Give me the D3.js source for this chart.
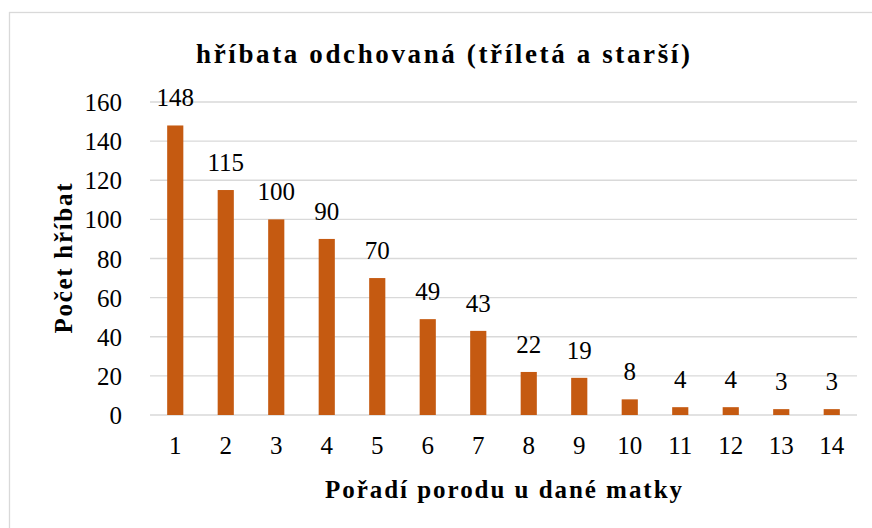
<!DOCTYPE html>
<html>
<head>
<meta charset="utf-8">
<script src="https://cdn.jsdelivr.net/npm/d3@7"></script>
<style>
  body { margin: 0; background: #fff; }
</style>
</head>
<body>
<div id="chart"></div>
<script>
// data
var categories = ["1","2","3","4","5","6","7","8","9","10","11","12","13","14"];
var values = [148, 115, 100, 90, 70, 49, 43, 22, 19, 8, 4, 4, 3, 3];
var yTicks = [0, 20, 40, 60, 80, 100, 120, 140, 160];

var title = "hříbata odchovaná (tříletá a starší)";
var yTitle = "Počet hříbat";
var xTitle = "Pořadí porodu u dané matky";

var serif = "'Liberation Serif', 'Times New Roman', Times, serif";

var W = 872, H = 528;
var margin = {top: 102, right: 15, bottom: 113, left: 150};
var width = W - margin.left - margin.right;
var height = H - margin.top - margin.bottom;

var svg = d3.select('#chart')
    .append('svg')
    .attr('width', W)
    .attr('height', H)
    .style('font-family', serif);

// chart frame (right and bottom run past the picture)
svg.append('rect')
    .attr('x', 9.5).attr('y', 12.5)
    .attr('width', W + 20).attr('height', H + 20)
    .attr('fill', 'none')
    .attr('stroke', '#d9d9d9')
    .attr('stroke-width', 1.3);

var g = svg.append('g')
    .attr('transform', 'translate(' + margin.left + ',' + margin.top + ')');

var x = d3.scaleBand().domain(categories).range([0, width]).paddingInner(0.68).paddingOuter(0.34);
var y = d3.scaleLinear().domain([0, 160]).range([height, 0]);

// gridlines
g.append('g')
    .selectAll('line')
    .data(yTicks)
    .enter()
    .append('line')
    .attr('x1', 0).attr('x2', width)
    .attr('y1', function(d){ return y(d); })
    .attr('y2', function(d){ return y(d); })
    .attr('stroke', '#d9d9d9')
    .attr('stroke-width', 1.3);

// y axis labels
var yAxis = d3.axisLeft(y).tickValues(yTicks).tickSize(0).tickPadding(28);
g.append('g').call(yAxis)
    .attr('font-family', null)
    .call(function(s){ s.select('.domain').remove(); })
    .selectAll('text')
    .style('font-family', serif)
    .style('font-size', '25px')
    .attr('fill', '#000')
    .attr('dy', '0.34em');

// x axis labels
var xAxis = d3.axisBottom(x).tickSize(0).tickPadding(21);
g.append('g')
    .attr('transform', 'translate(0,' + height + ')')
    .call(xAxis)
    .attr('font-family', null)
    .call(function(s){ s.select('.domain').remove(); })
    .selectAll('text')
    .style('font-family', serif)
    .style('font-size', '25px')
    .attr('fill', '#000');

// bars
g.append('g')
    .selectAll('rect')
    .data(values)
    .enter()
    .append('rect')
    .attr('x', function(d, i){ return x(categories[i]); })
    .attr('y', function(d){ return y(d); })
    .attr('width', x.bandwidth())
    .attr('height', function(d){ return height - y(d); })
    .attr('fill', '#c55a11');

// value labels
g.append('g')
    .selectAll('text')
    .data(values)
    .enter()
    .append('text')
    .attr('x', function(d, i){ return x(categories[i]) + x.bandwidth() / 2; })
    .attr('y', function(d){ return y(d) - 19; })
    .attr('text-anchor', 'middle')
    .style('font-family', serif)
    .style('font-size', '25px')
    .text(function(d){ return d; });

// titles (stretched to the reference widths)
svg.append('text')
    .attr('x', 443).attr('y', 63)
    .attr('text-anchor', 'middle')
    .attr('textLength', 494)
    .attr('lengthAdjust', 'spacing')
    .style('font-family', serif)
    .style('font-size', '27px')
    .style('font-weight', 'bold')
    .text(title);

svg.append('text')
    .attr('transform', 'translate(72,' + (margin.top + height / 2) + ') rotate(-90)')
    .attr('text-anchor', 'middle')
    .attr('textLength', 150)
    .attr('lengthAdjust', 'spacing')
    .style('font-family', serif)
    .style('font-size', '25px')
    .style('font-weight', 'bold')
    .text(yTitle);

svg.append('text')
    .attr('x', margin.left + width / 2).attr('y', 498)
    .attr('text-anchor', 'middle')
    .attr('textLength', 357)
    .attr('lengthAdjust', 'spacing')
    .style('font-family', serif)
    .style('font-size', '25px')
    .style('font-weight', 'bold')
    .text(xTitle);
</script>
</body>
</html>
